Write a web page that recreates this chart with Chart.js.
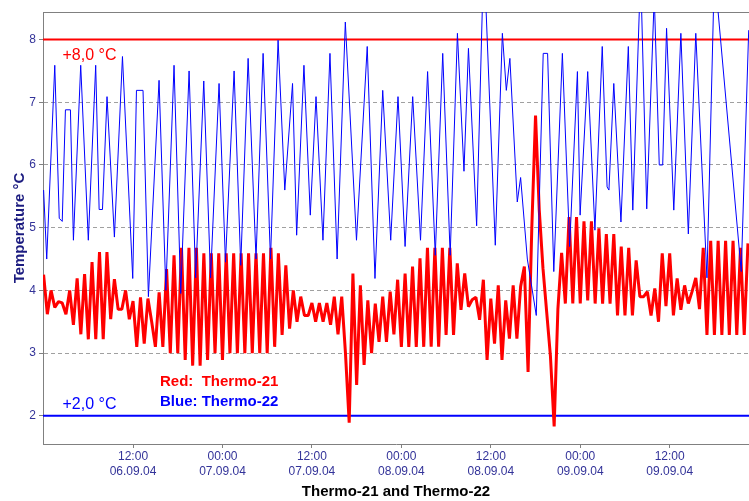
<!DOCTYPE html>
<html>
<head>
<meta charset="utf-8">
<title>Thermo-21 and Thermo-22</title>
<script src="https://cdn.jsdelivr.net/npm/chart.js@4.4.1/dist/chart.umd.min.js"></script>
<style>
  html, body { margin: 0; padding: 0; background: #fff; }
  #temp-chart { display: block; }
</style>
</head>
<body>
<canvas id="temp-chart" width="749" height="501"></canvas>
<script>
// hours are counted from 00:00 06.09.04
var xTickHours = [12, 24, 36, 48, 60, 72, 84];
var xTickTimes = ["12:00", "00:00", "12:00", "00:00", "12:00", "00:00", "12:00"];
var xTickDates = ["06.09.04", "07.09.04", "07.09.04", "08.09.04", "08.09.04", "09.09.04", "09.09.04"];
var yTicks = [2, 3, 4, 5, 6, 7, 8];

var upperLimit = 8.0;
var lowerLimit = 2.0;

// Thermo-21, one reading every half hour starting at 00:00 06.09.04
var redStartHour = 0;
var redStepHours = 0.5;
var redTemps = [
  4.25, 3.62, 4.0, 3.73, 3.82, 3.8, 3.62, 4.0, 3.45, 4.19,
  3.3, 4.26, 3.22, 4.45, 3.22, 4.61, 3.22, 4.61, 3.54, 4.18,
  3.7, 3.7, 4.0, 3.54, 3.83, 3.1, 3.89, 3.15, 3.87, 3.5,
  3.1, 3.97, 3.1, 4.34, 3.0, 4.56, 3.0, 4.68, 2.89, 4.68,
  2.8, 4.68, 2.8, 4.59, 2.89, 4.59, 3.0, 4.59, 2.89, 4.59,
  3.0, 4.59, 3.0, 4.59, 3.0, 4.59, 3.0, 4.59, 3.0, 4.59,
  3.0, 4.68, 3.1, 4.59, 3.29, 4.4, 3.39, 4.0, 3.5, 3.9,
  3.6, 3.6, 3.8, 3.5, 3.8, 3.5, 3.8, 3.45, 3.9, 3.3,
  3.9, 3.0, 1.89, 4.27, 2.49, 4.08, 2.81, 3.84, 3.0, 3.79,
  3.18, 3.9, 3.18, 3.98, 3.3, 4.17, 3.1, 4.27, 3.1, 4.38,
  3.1, 4.51, 3.1, 4.68, 3.1, 4.68, 3.1, 4.68, 3.29, 4.68,
  3.29, 4.43, 3.69, 4.27, 3.74, 3.85, 3.89, 3.53, 4.17, 2.89,
  3.87, 3.15, 4.08, 2.89, 3.84, 3.23, 4.08, 3.23, 4.06, 4.38,
  2.7, 5.0, 6.79, 5.28, 4.35, 3.65, 2.95, 1.83, 3.7, 4.6,
  3.79, 5.17, 3.79, 5.17, 3.79, 5.1, 3.84, 5.1, 3.79, 4.99,
  3.79, 4.9, 3.79, 4.9, 3.6, 4.7, 3.6, 4.68, 3.6, 4.48,
  3.9, 3.9, 3.98, 3.6, 4.03, 3.5, 4.59, 3.75, 4.59, 3.6,
  4.19, 3.69, 4.08, 3.79, 3.98, 4.2, 3.7, 4.68, 3.29, 4.79,
  3.29, 4.79, 3.29, 4.79, 3.29, 4.79, 3.29, 4.68, 3.29, 4.75
];

// Thermo-22, turning points of the defrost cycle
var blueHours = [
  0.0, 0.42, 1.5, 2.1, 2.5, 2.93, 3.6, 4.0, 4.98, 6.0,
  6.99, 7.45, 7.9, 8.51, 9.5, 10.58, 11.96, 12.46, 13.34, 14.06,
  15.49, 16.4, 17.5, 18.4, 19.52, 20.4, 21.49, 22.4, 23.54, 24.4,
  25.56, 26.45, 27.44, 28.5, 29.45, 30.44, 31.46, 32.36, 33.4, 33.95,
  34.93, 35.78, 36.55, 37.48, 38.42, 39.38, 40.48, 41.98, 43.42, 44.46,
  45.5, 46.57, 47.55, 48.5, 49.52, 50.57, 51.52, 52.55, 53.55, 54.55,
  55.52, 56.4, 57.0, 58.1, 59.06, 60.6, 61.55, 62.08, 62.56, 63.55,
  64.0, 64.9, 66.1, 67.03, 67.62, 68.45, 69.6, 70.58, 71.62, 71.98,
  73.0, 73.97, 74.95, 75.6, 75.85, 76.5, 77.46, 78.45, 79.05, 80.1,
  80.92, 81.93, 82.6, 83.06, 83.58, 84.55, 85.5, 86.5, 87.5, 89.0,
  90.0, 93.6, 94.6
];
var blueTemps = [
  5.6, 4.5, 7.59, 5.15, 5.1, 6.88, 6.88, 4.8, 7.59, 4.8,
  7.59, 5.29, 5.29, 7.09, 4.85, 7.73, 4.19, 7.19, 7.19, 3.9,
  7.35, 4.0, 7.59, 3.95, 7.5, 4.2, 7.34, 4.2, 7.3, 4.45,
  7.5, 4.4, 7.7, 4.5, 7.78, 4.5, 7.99, 5.6, 7.3, 4.88,
  7.59, 5.2, 7.09, 4.8, 7.78, 4.5, 8.28, 4.8, 7.89, 4.19,
  7.19, 4.8, 7.09, 4.7, 7.09, 4.8, 7.49, 4.56, 7.78, 4.56,
  8.1, 5.9, 7.86, 5.03, 9.4, 4.72, 8.1, 7.19, 7.7, 5.41,
  5.8, 4.5, 3.6, 7.78, 7.78, 4.3, 7.78, 4.7, 7.49, 5.2,
  7.49, 4.96, 7.89, 5.65, 5.6, 7.3, 5.09, 7.89, 5.28, 9.1,
  5.3, 8.7, 6.0, 6.0, 8.18, 5.28, 8.1, 4.9, 8.1, 4.2,
  9.1, 4.3, 8.15
];

var xMin = -0.08;
var xMax = 94.64;
var yMin = 1.55;
var yMax = 8.44;

var fontFamily = "'Liberation Sans', Arial, Helvetica, sans-serif";
Chart.defaults.font.family = fontFamily;

var redPoints = redTemps.map(function (v, i) {
    return { x: redStartHour + i * redStepHours, y: v };
});
var bluePoints = blueHours.map(function (h, i) {
    return { x: h, y: blueTemps[i] };
});

// frame line on top and the text inside the plot
var plotTexts = {
    id: "plotTexts",
    beforeDatasetsDraw: function (chart) {
        var ctx = chart.ctx, area = chart.chartArea;
        ctx.save();
        ctx.strokeStyle = "#808080";
        ctx.lineWidth = 1;
        ctx.beginPath();
        ctx.moveTo(area.left, area.top + 0.5);
        ctx.lineTo(area.right, area.top + 0.5);
        ctx.stroke();
        ctx.restore();
    },
    afterDatasetsDraw: function (chart) {
        var ctx = chart.ctx, area = chart.chartArea, y = chart.scales.y;
        var top = y.getPixelForValue(upperLimit);
        var bottom = y.getPixelForValue(lowerLimit);
        ctx.save();
        ctx.textBaseline = "alphabetic";
        ctx.textAlign = "left";

        ctx.font = "16px " + fontFamily;
        ctx.fillStyle = "#ff0000";
        ctx.fillText("+8,0 °C", area.left + 19.5, top + 20);
        ctx.fillStyle = "#0000ff";
        ctx.fillText("+2,0 °C", area.left + 19.5, bottom - 6.5);

        ctx.font = "bold 15px " + fontFamily;
        ctx.fillStyle = "#ff0000";
        ctx.fillText("Red:  Thermo-21", area.left + 117, bottom - 30);
        ctx.fillStyle = "#0000ff";
        ctx.fillText("Blue: Thermo-22", area.left + 117, bottom - 10);
        ctx.restore();
    }
};

var chart = new Chart(document.getElementById("temp-chart"), {
    type: "line",
    data: {
        datasets: [
            {
                label: "Thermo-22",
                data: bluePoints,
                borderColor: "#0000ff",
                borderWidth: 1,
                pointRadius: 0,
                tension: 0,
                clip: 0
            },
            {
                label: "Thermo-21",
                data: redPoints,
                borderColor: "#ff0000",
                borderWidth: 3,
                borderJoinStyle: "bevel",
                pointRadius: 0,
                tension: 0,
                clip: 0
            },
            {
                label: "upper",
                data: [{ x: xMin, y: upperLimit }, { x: xMax, y: upperLimit }],
                borderColor: "#ff0000",
                borderWidth: 2,
                pointRadius: 0,
                clip: 0
            },
            {
                label: "lower",
                data: [{ x: xMin, y: lowerLimit }, { x: xMax, y: lowerLimit }],
                borderColor: "#0000ff",
                borderWidth: 2,
                pointRadius: 0,
                clip: 0
            }
        ]
    },
    options: {
        responsive: false,
        animation: false,
        devicePixelRatio: 1,
        layout: { padding: { top: 12, right: 0, bottom: 0, left: 0 } },
        plugins: {
            legend: { display: false },
            tooltip: { enabled: false }
        },
        scales: {
            x: {
                type: "linear",
                min: xMin,
                max: xMax,
                afterFit: function (scale) { scale.height = 57; },
                afterBuildTicks: function (scale) {
                    scale.ticks = xTickHours.map(function (h) { return { value: h }; });
                },
                grid: { drawOnChartArea: false, tickLength: 4, tickColor: "#808080" },
                border: { color: "#808080" },
                ticks: {
                    autoSkip: false,
                    maxRotation: 0,
                    color: "#333399",
                    padding: 1,
                    font: { size: 12, lineHeight: 1.25 },
                    callback: function (value, index) {
                        return [xTickTimes[index], xTickDates[index]];
                    }
                },
                title: {
                    display: true,
                    text: "Thermo-21 and Thermo-22",
                    color: "#000000",
                    font: { size: 15, weight: "bold" },
                    padding: { top: 0, bottom: 0 }
                }
            },
            y: {
                min: yMin,
                max: yMax,
                afterFit: function (scale) { scale.width = 43; },
                afterBuildTicks: function (scale) {
                    scale.ticks = yTicks.map(function (v) { return { value: v }; });
                },
                grid: { color: "#a0a0a0", tickColor: "#808080", tickLength: 4 },
                border: { color: "#808080", dash: [4, 3] },
                ticks: {
                    color: "#333399",
                    padding: 3,
                    font: { size: 12 }
                },
                title: {
                    display: true,
                    text: "Temperature °C",
                    color: "#1c1c80",
                    font: { size: 15, weight: "bold" },
                    padding: { top: 11, bottom: 0 }
                }
            }
        }
    },
    plugins: [plotTexts]
});
</script>
</body>
</html>
